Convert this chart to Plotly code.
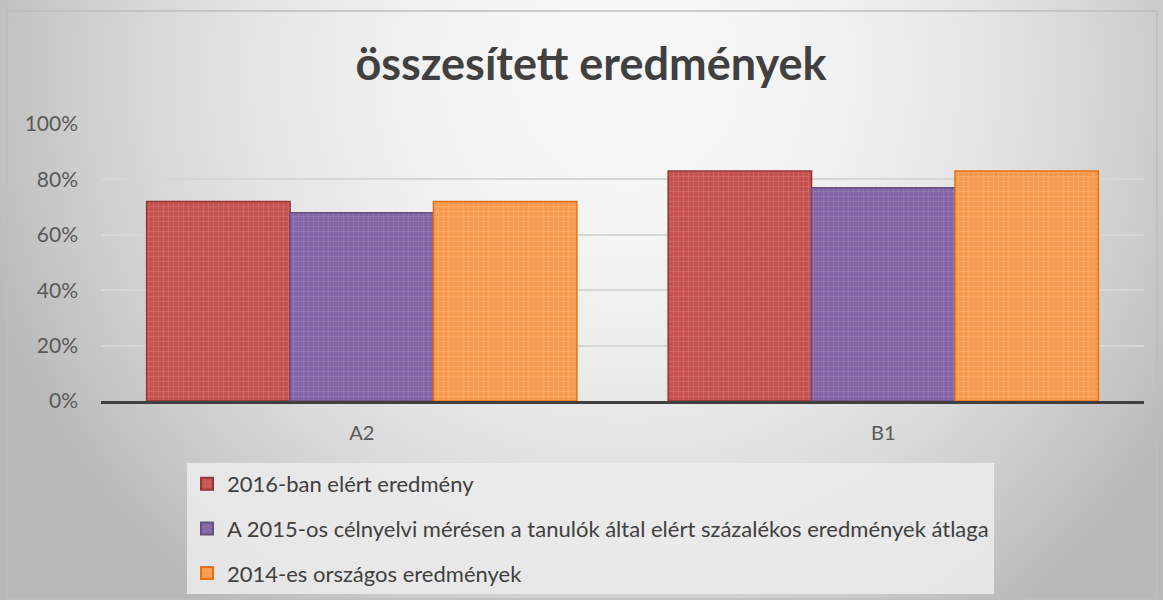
import base64
import struct
import zlib

import numpy as np
import plotly.graph_objects as go

# ---- data ----
categories = ["A2", "B1"]
series_names = [
    "2016-ban elért eredmény",
    "A 2015-os célnyelvi mérésen a tanulók által elért százalékos eredmények átlaga",
    "2014-es országos eredmények",
]
values_2016 = [0.72, 0.83]
values_2015 = [0.68, 0.77]
values_2014 = [0.72, 0.83]
y_ticks = [0, 0.2, 0.4, 0.6, 0.8, 1.0]
y_tick_labels = ["0%", "20%", "40%", "60%", "80%", "100%"]

fill_colors = ["#c4524f", "#8366a5", "#f79a4e"]
line_colors = ["#943634", "#65507f", "#e8710f"]
pattern_colors = ["#e08a88", "#a590c0", "#fbbf8c"]

# ---- figure geometry (pixels) ----
FIG_W, FIG_H = 1163, 600
PLOT_L, PLOT_R, PLOT_T, PLOT_B = 101, 1144, 124, 401
PW, PH = PLOT_R - PLOT_L, PLOT_B - PLOT_T


def px(x):
    return (x - PLOT_L) / PW


def py(y):
    return (PLOT_B - y) / PH


def png_data_uri(arr):
    h, w, _ = arr.shape
    raw = b"".join(b"\x00" + arr[r].tobytes() for r in range(h))

    def chunk(tag, data):
        c = struct.pack(">I", len(data)) + tag + data
        return c + struct.pack(">I", zlib.crc32(tag + data) & 0xFFFFFFFF)

    png = b"\x89PNG\r\n\x1a\n"
    png += chunk(b"IHDR", struct.pack(">IIBBBBB", w, h, 8, 2, 0, 0, 0))
    png += chunk(b"IDAT", zlib.compress(raw, 9))
    png += chunk(b"IEND", b"")
    return "data:image/png;base64," + base64.b64encode(png).decode()


# soft radial background shading of the chart area
yy, xx = np.mgrid[0:FIG_H, 0:FIG_W].astype(float)
cx, cy = 630.0, 70.0
rx = np.where(xx < cx, 640.0, 600.0)
r2 = ((xx - cx) / rx) ** 2 + ((yy - cy) / 640.0) ** 2
shade = np.clip(248 - 56 * r2, 185, 250).astype(np.uint8)
bg = np.stack([shade, shade, shade], axis=-1)
bg_uri = png_data_uri(bg)

fig = go.Figure()
for name, vals, fc, lc, pc in zip(
    series_names, [values_2016, values_2015, values_2014], fill_colors, line_colors, pattern_colors
):
    fig.add_trace(
        go.Bar(
            x=categories,
            y=vals,
            name=name,
            legendgroup=name,
            marker=dict(
                color=fc,
                line=dict(color=lc, width=1.5),
                pattern=dict(shape="+", fgcolor=pc, size=5, solidity=0.25),
            ),
        )
    )

fig.update_layout(
    width=FIG_W,
    height=FIG_H,
    barmode="group",
    bargap=0.175,
    bargroupgap=0,
    paper_bgcolor="white",
    plot_bgcolor="rgba(0,0,0,0)",
    margin=dict(l=PLOT_L, r=FIG_W - PLOT_R, t=PLOT_T, b=FIG_H - PLOT_B, autoexpand=False),
    font=dict(family="Lato, 'Open Sans', sans-serif", color="#595959"),
    title=dict(
        text="<b>összesített eredmények</b>",
        x=591 / FIG_W,
        xanchor="center",
        xref="container",
        y=1 - 64 / FIG_H,
        yanchor="middle",
        font=dict(size=45, color="#404040", family="Lato, sans-serif"),
    ),
    showlegend=True,
    legend=dict(
        orientation="v",
        x=px(187),
        xanchor="left",
        y=py(463),
        yanchor="top",
        bgcolor="rgba(236,236,236,0.85)",
        font=dict(size=22, color="#404040"),
        traceorder="grouped",
        tracegroupgap=13,
        itemsizing="constant",
        itemwidth=30,
    ),
    xaxis=dict(
        showgrid=False,
        showline=True,
        linecolor="#404040",
        linewidth=3,
        ticks="",
        tickfont=dict(size=20, color="#595959"),
        ticklabelstandoff=12,
    ),
    yaxis=dict(
        range=[0, 1.0],
        tickvals=y_ticks,
        ticktext=y_tick_labels,
        showgrid=True,
        gridcolor="#d6d6d6",
        gridwidth=1.5,
        zeroline=False,
        showline=False,
        tickfont=dict(size=21, color="#595959"),
        ticklabelstandoff=22,
    ),
    images=[
        dict(
            source=bg_uri,
            xref="paper",
            yref="paper",
            x=px(0),
            y=py(0),
            sizex=FIG_W / PW,
            sizey=FIG_H / PH,
            xanchor="left",
            yanchor="top",
            sizing="stretch",
            layer="below",
        )
    ],
    shapes=[
        dict(
            type="rect",
            xref="paper",
            yref="paper",
            x0=px(7),
            x1=px(1157),
            y0=py(599),
            y1=py(11),
            line=dict(color="#bdbdbd", width=1.5),
            fillcolor="rgba(0,0,0,0)",
            layer="below",
        )
    ],
)

fig.write_html("out.html")
